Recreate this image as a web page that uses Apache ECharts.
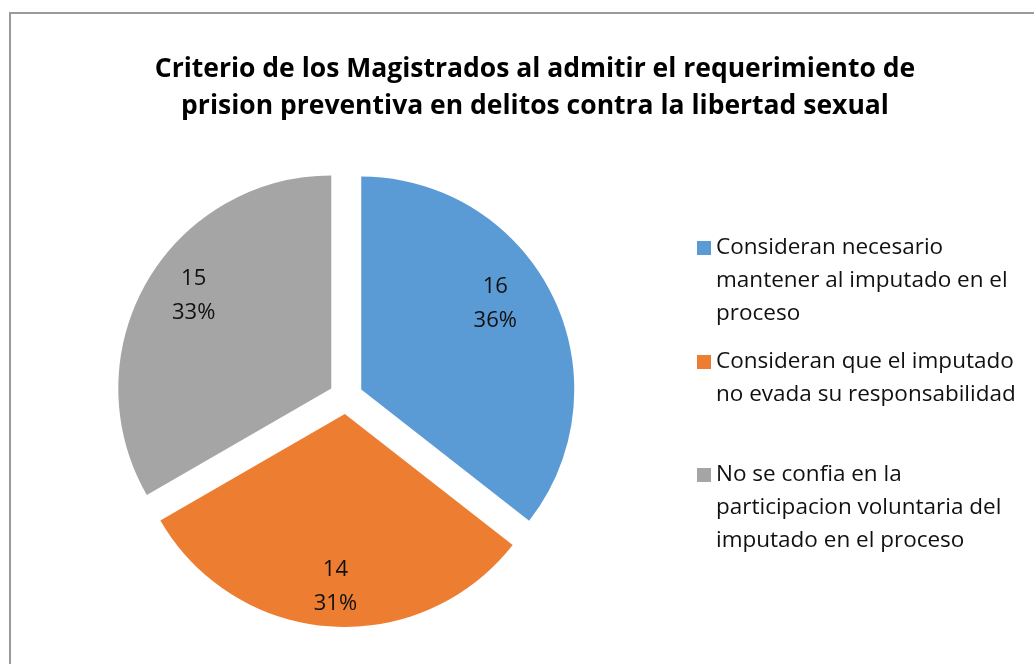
<!DOCTYPE html>
<html>
	<head>
		<meta charset="utf-8" />
		<title>Criterio de los Magistrados</title>
		<script src="https://cdn.jsdelivr.net/npm/echarts@6/dist/echarts.min.js"></script>
		<style>
			body { margin: 0; background: #fff; }
			#main { width: 1034px; height: 664px; }
		</style>
	</head>
	<body>
		<div id="main"></div>
		<script type="text/javascript">
			// datos del grafico
			var categorias = [
				'Consideran necesario mantener al imputado en el proceso',
				'Consideran que el imputado no evada su responsabilidad',
				'No se confia en la participacion voluntaria del imputado en el proceso'
			];
			var valores = [16, 14, 15];
			var colores = ['#5B9BD5', '#ED7D31', '#A5A5A5'];
			// como se parte el texto de la leyenda
			var leyenda = [
				['Consideran necesario', 'mantener al imputado en el', 'proceso'],
				['Consideran que el imputado', 'no evada su responsabilidad'],
				['No se confia en la', 'participacion voluntaria del', 'imputado en el proceso']
			];

			var fuente = '"Open Sans", "Noto Sans", sans-serif';
			var centro = [346, 397];
			var radio = 213;
			var separacion = 17;
			// pequeno ajuste de las etiquetas como las coloca Excel
			var ajuste = [[-13, -14], [2, 10], [4, -11]];

			var datos = categorias.map(function (c, i) {
				return { name: c, value: valores[i], selected: true, itemStyle: { color: colores[i] } };
			});

			// una leyenda por elemento para respetar el espaciado del original
			// (lineas vacias arriba para que el cuadro quede junto a la primera linea)
			var iconY = [248, 362, 475];
			var legends = categorias.map(function (c, i) {
				var n = leyenda[i].length;
				var relleno = [];
				for (var k = 0; k < n - 1; k++) relleno.push(' ');
				return {
					data: [c],
					orient: 'vertical',
					left: 697,
					top: iconY[i] - (2 * n - 1) * 16.5,
					itemWidth: 14,
					itemHeight: 14,
					itemGap: 0,
					icon: 'rect',
					selectedMode: false,
					padding: 0,
					formatter: function () { return relleno.concat(leyenda[i]).join('\n'); },
					textStyle: {
						fontFamily: fuente,
						fontSize: 22.5,
						lineHeight: 33,
						color: '#111'
					}
				};
			});

			var myChart = echarts.init(document.getElementById('main'));
			myChart.setOption({
				animation: false,
				title: {
					text: 'Criterio de los Magistrados al admitir el requerimiento de\nprision preventiva en delitos contra la libertad sexual',
					left: 530,
					top: 46,
					textAlign: 'center',
					textStyle: {
						fontFamily: fuente,
						fontSize: 26.5,
						fontWeight: 'bold',
						lineHeight: 37,
						color: '#000'
					}
				},
				legend: legends,
				graphic: [{
					type: 'rect',
					shape: { x: 10, y: 13, width: 1100, height: 700 },
					style: { fill: 'none', stroke: '#9a9a9a', lineWidth: 2 },
					silent: true
				}],
				series: [{
					type: 'pie',
					center: centro,
					radius: [0, radio],
					startAngle: 90,
					selectedMode: 'multiple',
					selectedOffset: separacion,
					emphasis: { disabled: true },
					label: { show: false },
					labelLine: { show: false },
					data: datos
				}, {
					// anillo transparente solo para colocar las etiquetas
					type: 'pie',
					center: centro,
					radius: [108, radio],
					startAngle: 90,
					silent: true,
					selectedMode: 'multiple',
					selectedOffset: separacion,
					emphasis: { disabled: true },
					itemStyle: { color: 'rgba(0,0,0,0)' },
					label: {
						show: true,
						position: 'inside',
						fontFamily: fuente,
						fontSize: 22,
						lineHeight: 34,
						color: '#111',
						formatter: function (p) { return p.value + '\n' + Math.round(p.percent) + '%'; }
					},
					labelLayout: function (p) {
						return { dx: ajuste[p.dataIndex][0], dy: ajuste[p.dataIndex][1] };
					},
					labelLine: { show: false },
					data: datos.map(function (d) {
						return { name: d.name, value: d.value, selected: true, itemStyle: { color: 'rgba(0,0,0,0)' } };
					})
				}]
			});
		</script>
	</body>
</html>
